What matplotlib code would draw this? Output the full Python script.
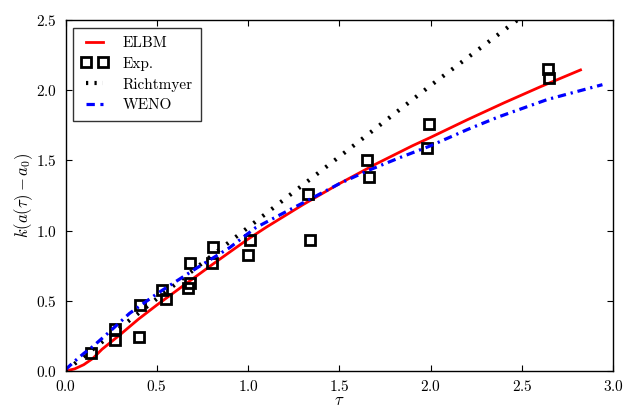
import matplotlib
matplotlib.use('Agg')
import matplotlib.pyplot as plt
import matplotlib.lines as mlines

plt.rcParams['font.family'] = 'serif'
plt.rcParams['font.serif'] = ['cmr10']
plt.rcParams['mathtext.fontset'] = 'cm'
plt.rcParams['axes.formatter.use_mathtext'] = True
plt.rcParams['lines.scale_dashes'] = False

# ELBM curve
elbm_t = [0, 0.05, 0.1, 0.15, 0.2, 0.3, 0.4, 0.5, 0.6, 0.7, 0.8, 0.9, 1.0, 1.1, 1.2,
          1.3, 1.4, 1.5, 1.6, 1.7, 1.8, 1.9, 2.0, 2.2, 2.4, 2.6, 2.82]
elbm_k = [0, 0.015, 0.045, 0.09, 0.155, 0.26, 0.37, 0.47, 0.565, 0.66, 0.755, 0.848, 0.94, 1.025, 1.105,
          1.185, 1.26, 1.335, 1.405, 1.475, 1.54, 1.605, 1.665, 1.79, 1.91, 2.025, 2.145]

# experiment
exp_t = [0.14, 0.27, 0.27, 0.40, 0.41, 0.53, 0.55, 0.68, 0.68, 0.67, 0.81, 0.80, 1.01, 1.00,
         1.33, 1.34, 1.65, 1.66, 1.99, 1.98, 2.64, 2.65]
exp_k = [0.13, 0.30, 0.22, 0.24, 0.47, 0.58, 0.51, 0.77, 0.63, 0.59, 0.88, 0.77, 0.93, 0.83,
         1.26, 0.93, 1.50, 1.38, 1.76, 1.59, 2.15, 2.09]

# Richtmyer
rich_t = [0, 0.3, 0.735, 1.17, 1.537, 2.0, 2.474, 2.7]
rich_k = [0, 0.31, 0.755, 1.195, 1.565, 2.035, 2.5, 2.73]

# WENO
weno_t = [0, 0.05, 0.1, 0.15, 0.25, 0.35, 0.5, 0.72, 0.9, 1.04, 1.2, 1.34, 1.5, 1.66,
          1.83, 1.99, 2.2, 2.37, 2.64, 2.94]
weno_k = [0.01, 0.07, 0.125, 0.175, 0.29, 0.41, 0.55, 0.735, 0.88, 1.02, 1.13, 1.225, 1.335, 1.43,
          1.52, 1.60, 1.72, 1.81, 1.935, 2.04]

fig = plt.figure(figsize=(6.24, 4.08), dpi=100)
ax = fig.add_axes([0.105, 0.0907, 0.878, 0.860])

ax.plot(elbm_t, elbm_k, '-', color='red', lw=2.0)
ax.plot(exp_t, exp_k, 's', mfc='none', mec='black', mew=2.0, ms=7, clip_on=False)
ax.plot(rich_t, rich_k, color='black', lw=3.0, dashes=(1.6, 6.6))
ax.plot(weno_t, weno_k, color='blue', lw=2.3, dashes=(6, 3.5, 1.6, 3.5))

ax.set_xlim(0, 3.0)
ax.set_ylim(0, 2.5)
ax.set_xticks([0, 0.5, 1.0, 1.5, 2.0, 2.5, 3.0])
ax.set_yticks([0, 0.5, 1.0, 1.5, 2.0, 2.5])
ax.tick_params(direction='in', top=True, right=True, length=4, width=0.8, labelsize=11, pad=6)
for s in ax.spines.values():
    s.set_linewidth(1.0)

ax.set_xlabel(r'$\tau$', fontsize=12, labelpad=-1)
ax.set_ylabel(r'$k(a(\tau)-a_0)$', fontsize=12, labelpad=1)

# legend handles drawn short, like the original
h1 = mlines.Line2D([], [], color='red', lw=2.0)
h2 = mlines.Line2D([], [], ls='none', marker='s', mfc='none', mec='black', mew=2.0, ms=7)
h3 = mlines.Line2D([], [], color='black', lw=3.0, dashes=(1.6, 4.5))
h4 = mlines.Line2D([], [], color='blue', lw=2.3, dashes=(6, 4))
leg = ax.legend([h1, h2, h3, h4], ['ELBM', 'Exp.', 'Richtmyer', 'WENO'], loc='upper left',
                numpoints=2, fontsize=11, handlelength=1.7, handletextpad=1.0,
                borderpad=0.55, labelspacing=0.45, borderaxespad=0.5, fancybox=False)
leg.get_frame().set_edgecolor('black')
leg.get_frame().set_linewidth(1.0)

fig.savefig('out.png', dpi=100)
